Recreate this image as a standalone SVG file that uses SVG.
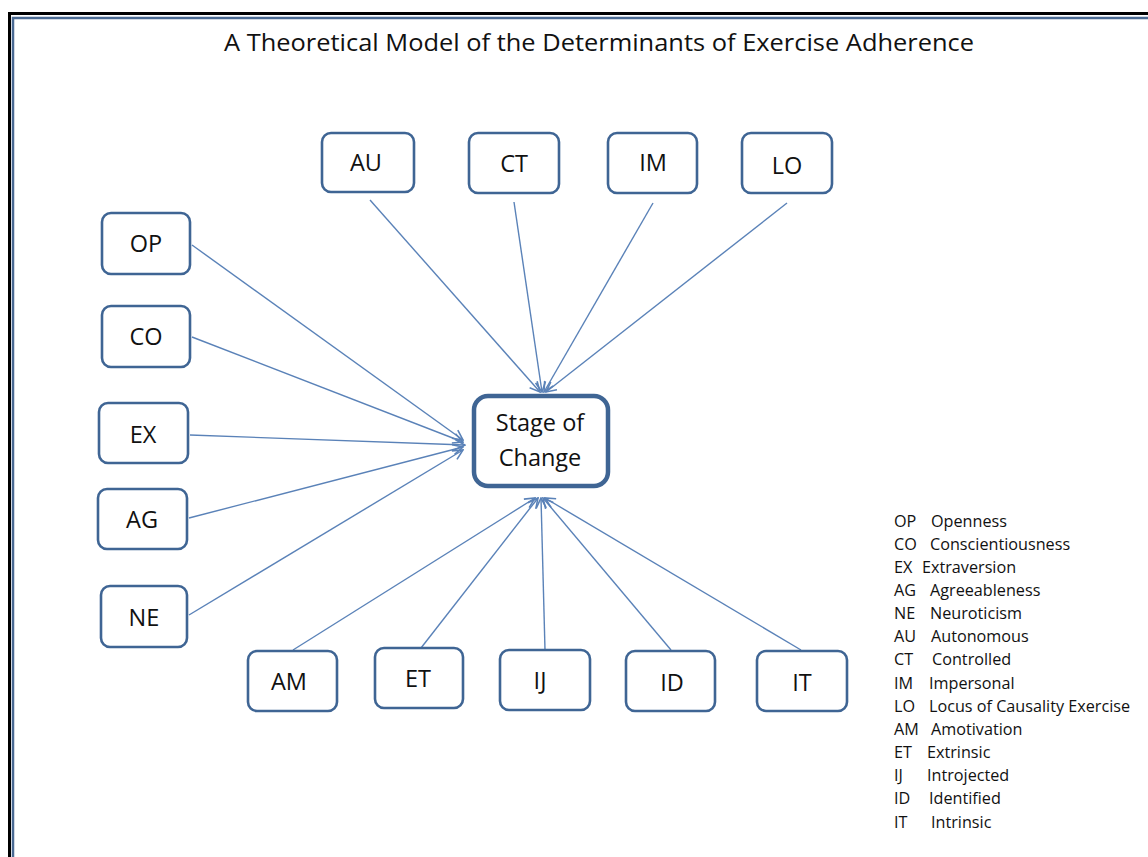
<svg xmlns="http://www.w3.org/2000/svg" width="1148" height="857" viewBox="0 0 1148 857">
<style>
.frame{fill:none;stroke:#000;stroke-width:3}
.frame2{fill:none;stroke:#4a6a93;stroke-width:2.5}
.box{fill:#fff;stroke:#3f6594;stroke-width:2.6}
.main{fill:#fff;stroke:#3f6594;stroke-width:4.5}
.lbl{font-family:"Open Sans","Liberation Sans",sans-serif;font-size:23.5px;fill:#111;text-anchor:middle}
.title{font-family:"Open Sans","Liberation Sans",sans-serif;font-size:24px;fill:#111;text-anchor:middle}
.leg{font-family:"Open Sans","Liberation Sans",sans-serif;font-size:16.2px;fill:#111}
.con line{stroke:#5a82b8;stroke-width:1.4;marker-end:url(#ah)}
</style>
<defs>
<marker id="ah" viewBox="0 0 12 12" refX="11" refY="6" markerWidth="12" markerHeight="12" markerUnits="userSpaceOnUse" orient="auto">
<path d="M1,1 L11,6 L1,11" fill="none" stroke="#5a82b8" stroke-width="1.6"/>
</marker>
</defs>
<rect width="1148" height="857" fill="#fff"/>
<rect class="frame" x="9.5" y="13.5" width="1150" height="860"/>
<rect class="frame2" x="13" y="18" width="1150" height="860"/>
<text class="title" x="599" y="51" textLength="750" lengthAdjust="spacingAndGlyphs">A Theoretical Model of the Determinants of Exercise Adherence</text>
<g class="con" id="connectors">
<line x1="192" y1="245" x2="463" y2="440"/>
<line x1="192" y1="337" x2="463" y2="442"/>
<line x1="190" y1="435" x2="465" y2="445"/>
<line x1="189" y1="518" x2="463" y2="447"/>
<line x1="189" y1="615" x2="463" y2="450"/>
<line x1="370" y1="200" x2="540" y2="392"/>
<line x1="514" y1="202" x2="542" y2="392"/>
<line x1="653" y1="203" x2="544" y2="392"/>
<line x1="787" y1="203" x2="546" y2="392"/>
<line x1="293" y1="650" x2="535" y2="498"/>
<line x1="421" y1="648" x2="538" y2="498"/>
<line x1="545" y1="650" x2="541" y2="498"/>
<line x1="671" y1="650" x2="543" y2="498"/>
<line x1="801" y1="650" x2="545" y2="498"/>
</g>
<g id="stage"><rect class="main" x="474" y="396" width="134" height="90" rx="14"/><text class="lbl" x="540" y="431">Stage of</text><text class="lbl" x="540" y="466">Change</text></g>
<g id="OP"><rect class="box" x="102" y="213" width="88" height="61" rx="9"/><text class="lbl" x="146" y="252">OP</text></g>
<g id="CO"><rect class="box" x="102" y="306" width="88" height="61" rx="9"/><text class="lbl" x="146" y="345">CO</text></g>
<g id="EX"><rect class="box" x="99" y="403" width="89" height="60" rx="9"/><text class="lbl" x="143" y="443">EX</text></g>
<g id="AG"><rect class="box" x="98" y="489" width="89" height="60" rx="9"/><text class="lbl" x="142" y="528">AG</text></g>
<g id="NE"><rect class="box" x="101" y="586" width="86" height="61" rx="9"/><text class="lbl" x="144" y="626">NE</text></g>
<g id="AU"><rect class="box" x="322" y="133" width="92" height="59" rx="9"/><text class="lbl" x="366" y="171">AU</text></g>
<g id="CT"><rect class="box" x="469" y="133" width="90" height="60" rx="9"/><text class="lbl" x="514" y="172">CT</text></g>
<g id="IM"><rect class="box" x="608" y="133" width="89" height="60" rx="9"/><text class="lbl" x="653" y="171">IM</text></g>
<g id="LO"><rect class="box" x="742" y="133" width="90" height="60" rx="9"/><text class="lbl" x="787" y="174">LO</text></g>
<g id="AM"><rect class="box" x="248" y="651" width="89" height="60" rx="9"/><text class="lbl" x="289" y="690">AM</text></g>
<g id="ET"><rect class="box" x="375" y="648" width="88" height="60" rx="9"/><text class="lbl" x="418" y="687">ET</text></g>
<g id="IJ"><rect class="box" x="500" y="650" width="90" height="60" rx="9"/><text class="lbl" x="540" y="689">IJ</text></g>
<g id="ID"><rect class="box" x="626" y="651" width="89" height="60" rx="9"/><text class="lbl" x="672" y="691">ID</text></g>
<g id="IT"><rect class="box" x="757" y="651" width="90" height="60" rx="9"/><text class="lbl" x="802" y="691">IT</text></g>
<g id="legend" class="leg">
<text x="894" y="527">OP</text><text x="931" y="527">Openness</text>
<text x="894" y="550">CO</text><text x="930" y="550">Conscientiousness</text>
<text x="894" y="573">EX</text><text x="922" y="573">Extraversion</text>
<text x="894" y="596">AG</text><text x="930" y="596">Agreeableness</text>
<text x="894" y="619">NE</text><text x="930" y="619">Neuroticism</text>
<text x="894" y="642">AU</text><text x="931" y="642">Autonomous</text>
<text x="894" y="665">CT</text><text x="932" y="665">Controlled</text>
<text x="894" y="689">IM</text><text x="929" y="689">Impersonal</text>
<text x="894" y="712">LO</text><text x="929" y="712">Locus of Causality Exercise</text>
<text x="894" y="735">AM</text><text x="931" y="735">Amotivation</text>
<text x="894" y="758">ET</text><text x="927" y="758">Extrinsic</text>
<text x="894" y="781">IJ</text><text x="927" y="781">Introjected</text>
<text x="894" y="804">ID</text><text x="929" y="804">Identified</text>
<text x="894" y="828">IT</text><text x="931" y="828">Intrinsic</text>
</g>
</svg>
